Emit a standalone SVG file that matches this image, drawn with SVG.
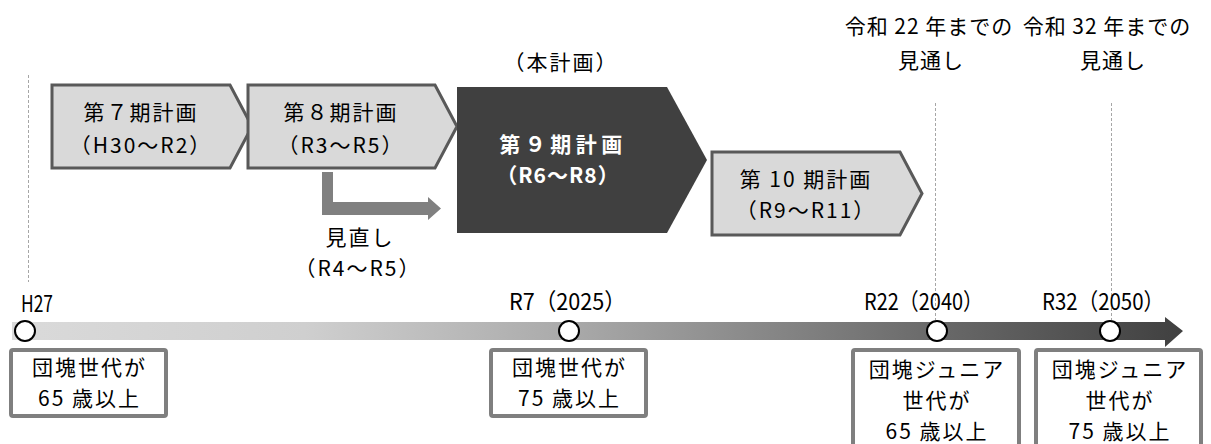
<svg xmlns="http://www.w3.org/2000/svg" width="1211" height="444" viewBox="0 0 1211 444">
<style>
text{font-family:"Noto Sans CJK JP","Noto Sans",sans-serif;font-size:21px;letter-spacing:2px;fill:#000;text-anchor:middle}
.plan{fill:#d9d9d9;stroke:#595959;stroke-width:3}
.main{fill:#404040}
.wt{fill:#fff;font-weight:bold;letter-spacing:4.5px}
.wt2{fill:#fff;font-weight:bold;letter-spacing:1px}
.box{fill:#fff;stroke:#7f7f7f;stroke-width:4}
.dash{stroke:#a6a6a6;stroke-width:1;stroke-dasharray:3 2;fill:none}
.pt{fill:#fff;stroke:#000;stroke-width:2}
.yr{text-anchor:start;font-size:23px;letter-spacing:0}
.ol{letter-spacing:1px}
</style>
<defs>
<linearGradient id="tl" gradientUnits="userSpaceOnUse" x1="12" y1="0" x2="1183" y2="0">
<stop offset="0" stop-color="#dadada"/>
<stop offset="0.25" stop-color="#cfcfcf"/>
<stop offset="0.48" stop-color="#a9a9a9"/>
<stop offset="0.78" stop-color="#6b6b6b"/>
<stop offset="1" stop-color="#404040"/>
</linearGradient>
</defs>
<g id="guides">
<line class="dash" x1="28.5" y1="75" x2="28.5" y2="282"/>
<line class="dash" x1="935.5" y1="103" x2="935.5" y2="320"/>
<line class="dash" x1="1111.5" y1="103" x2="1111.5" y2="320"/>
</g>
<g id="connectors">
<polygon fill="#808080" points="322,172 333,172 333,202 428,202 428,197 441,208.5 428,220 428,215 322,215"/>
<polygon fill="url(#tl)" points="12,322 1165,322 1165,317 1183,331 1165,347 1165,340 12,340"/>
</g>
<g id="outlook">
<text class="ol" x="929" y="34">令和 22 年までの</text>
<text class="ol" x="931" y="68">見通し</text>
<text class="ol" x="1107" y="34">令和 32 年までの</text>
<text class="ol" x="1113" y="68">見通し</text>
</g>
<g id="label-main"><text x="561" y="70">（本計画）</text></g>
<g id="plan7">
<polygon class="plan" points="52,85 230,85 252,126.5 230,168 52,168"/>
<text x="141" y="120">第７期計画</text>
<text x="141" y="153">（H30～R2）</text>
</g>
<g id="plan8">
<polygon class="plan" points="248,85 435,85 457,126.5 435,168 248,168"/>
<text x="341" y="120">第８期計画</text>
<text x="341" y="153">（R3～R5）</text>
</g>
<g id="plan9">
<polygon class="main" points="457,87 667,87 707,160 667,233 457,233"/>
<text class="wt" x="563" y="152">第９期計画</text>
<text class="wt2" x="558" y="183">（R6～R8）</text>
</g>
<g id="plan10">
<polygon class="plan" points="712,152 900,152 922,193.5 900,235 712,235"/>
<text x="806" y="187">第 10 期計画</text>
<text x="806" y="218">（R9～R11）</text>
</g>
<g id="review">
<text x="360" y="245">見直し</text>
<text x="358" y="276">（R4～R5）</text>
</g>
<g id="m-h27">
<text class="yr" x="21" y="312" textLength="32" lengthAdjust="spacingAndGlyphs">H27</text>
<circle class="pt" cx="25" cy="331" r="10"/>
<rect class="box" x="11" y="350" width="155" height="66" rx="2"/>
<text x="89.5" y="375">団塊世代が</text>
<text x="89.5" y="406">65 歳以上</text>
</g>
<g id="m-r7">
<text class="yr" x="509" y="310" textLength="117" lengthAdjust="spacingAndGlyphs">R7（2025）</text>
<circle class="pt" cx="569" cy="331" r="10"/>
<rect class="box" x="491" y="350" width="155" height="66" rx="2"/>
<text x="569.5" y="375">団塊世代が</text>
<text x="569.5" y="406">75 歳以上</text>
</g>
<g id="m-r22">
<text class="yr" x="864" y="310" textLength="119" lengthAdjust="spacingAndGlyphs">R22（2040）</text>
<circle class="pt" cx="937" cy="331" r="10"/>
<rect class="box" x="853" y="350" width="166" height="110" rx="2"/>
<text x="937" y="377">団塊ジュニア</text>
<text x="937" y="408">世代が</text>
<text x="937" y="439">65 歳以上</text>
</g>
<g id="m-r32">
<text class="yr" x="1042" y="310" textLength="122" lengthAdjust="spacingAndGlyphs">R32（2050）</text>
<circle class="pt" cx="1110" cy="331" r="10"/>
<rect class="box" x="1036" y="350" width="165" height="110" rx="2"/>
<text x="1120" y="377">団塊ジュニア</text>
<text x="1120" y="408">世代が</text>
<text x="1120" y="439">75 歳以上</text>
</g>
</svg>
